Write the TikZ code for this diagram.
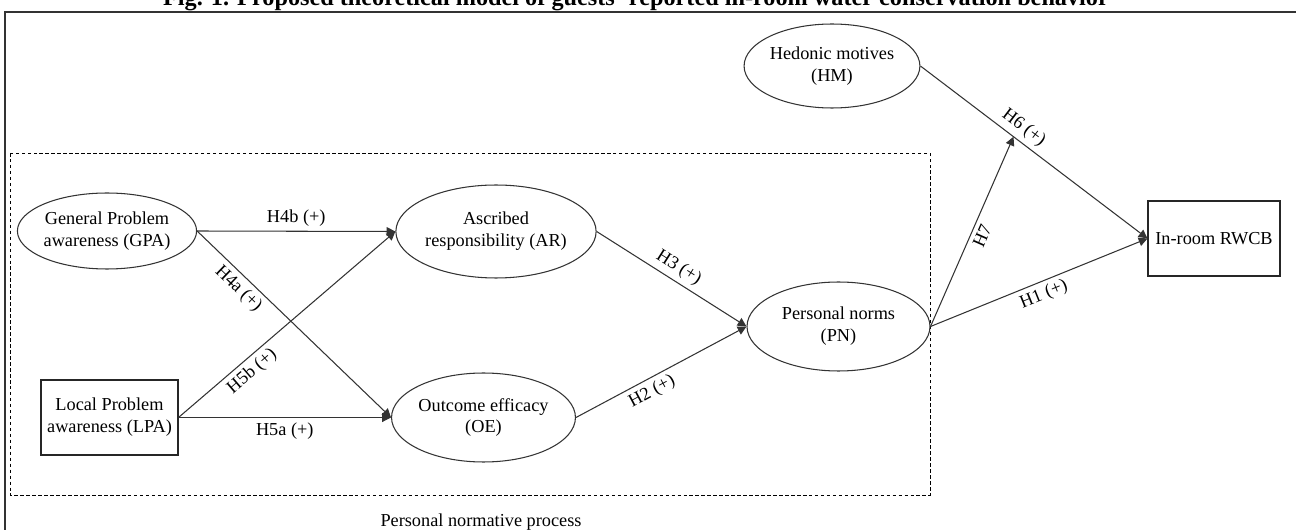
\documentclass[tikz,border=0pt]{standalone}
\usepackage{fontspec}
\setmainfont{Liberation Serif}
\usetikzlibrary{shapes.geometric, arrows.meta, calc}

\begin{document}
\begin{tikzpicture}[
    x=0.02cm, y=-0.02cm,
    >={Triangle[length=5pt, width=5pt]},
    construct/.style={ellipse, draw=black!80, line width=0.6pt, inner sep=0pt,
                      align=center, font=\fontsize{10.4}{12.5}\selectfont},
    observed/.style={rectangle, draw=black!85, line width=0.6pt, inner sep=0pt,
                     align=center, font=\fontsize{10.4}{12.5}\selectfont},
    hyp/.style={font=\fontsize{10.4}{12.5}\selectfont, inner sep=2.5pt, sloped},
    link/.style={->, draw=black!80, line width=0.6pt}
]
\useasboundingbox (0,0) rectangle (1296,530);
% frame and title
\draw[line width=0.9pt, black!80] (5,545) -- (5,12) -- (1310,12);
\node[anchor=base, font=\fontsize{13.8}{15}\selectfont\bfseries] (title) at (636,6)
    {Fig. 1. Proposed theoretical model of guests' reported in-room water conservation behavior};
% personal normative process
\draw[dashed, dash pattern=on 2pt off 1.4pt, line width=0.5pt] (10,153) rectangle (930,495);
\node[anchor=base, font=\fontsize{10.4}{12.5}\selectfont] (pnp) at (481,526) {Personal normative process};
% constructs
\node[construct, minimum width=3.16cm, minimum height=1.52cm] (gpa) at (107,231) {General Problem\\awareness (GPA)};
\node[observed, minimum width=2.74cm, minimum height=1.5cm] (lpa) at (109.5,417.5) {Local Problem\\awareness (LPA)};
\node[construct, minimum width=3.76cm, minimum height=1.86cm] (ar) at (496,231.5) {Ascribed\\responsibility (AR)};
\node[construct, minimum width=3.54cm, minimum height=1.78cm] (oe) at (483.5,417.5) {Outcome efficacy\\(OE)};
\node[construct, minimum width=3.66cm, minimum height=1.78cm] (pn) at (838.5,326.5) {Personal norms\\(PN)};
\node[construct, minimum width=3.44cm, minimum height=1.68cm] (hm) at (832,66) {Hedonic motives\\(HM)};
\node[observed, minimum width=2.64cm, minimum height=1.5cm] (rwcb) at (1214,238.5) {In-room RWCB};
% paths
\draw[link] (gpa.east) -- node[hyp, above]{H4b (+)} (ar.west);
\draw[link] (gpa.east) -- node[hyp, below, pos=0.26]{H4a (+)} (oe.west);
\draw[link] (lpa.east) -- node[hyp, below, pos=0.3]{H5b (+)} (ar.west);
\draw[link] (lpa.east) -- node[hyp, below]{H5a (+)} (oe.west);
\draw[link] (ar.east) -- node[hyp, above]{H3 (+)} (pn.west);
\draw[link] (oe.east) -- node[hyp, below, pos=0.41]{H2 (+)} (pn.west);
\draw[link] (hm.east) -- node[hyp, above, pos=0.42]{H6 (+)} (rwcb.west);
\coordinate (h7tip) at ($(hm.east)!0.41!(rwcb.west)$);
\draw[link] (pn.east) -- node[hyp, below]{H7} (h7tip);
\draw[link] (pn.east) -- node[hyp, below]{H1 (+)} (rwcb.west);
\end{tikzpicture}
\end{document}
